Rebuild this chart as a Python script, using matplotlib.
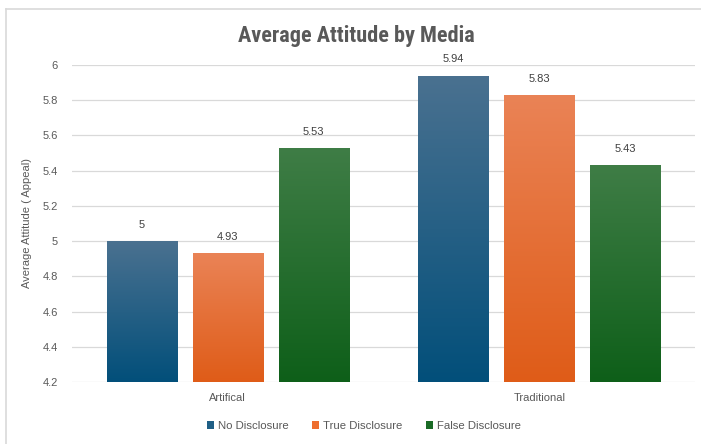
import numpy as np
import matplotlib
matplotlib.use("Agg")
import matplotlib.pyplot as plt
from matplotlib.colors import LinearSegmentedColormap
from matplotlib.lines import Line2D
from matplotlib.patches import Patch

categories = ["Artifical", "Traditional"]
series_names = ["No Disclosure", "True Disclosure", "False Disclosure"]
no_disclosure = [5.0, 5.94]
true_disclosure = [4.93, 5.83]
false_disclosure = [5.53, 5.43]
value_labels = [["5", "5.94"], ["4.93", "5.83"], ["5.53", "5.43"]]
yticks = [4.2, 4.4, 4.6, 4.8, 5.0, 5.2, 5.4, 5.6, 5.8, 6.0]
ytick_labels = ["4.2", "4.4", "4.6", "4.8", "5", "5.2", "5.4", "5.6", "5.8", "6"]

series = [no_disclosure, true_disclosure, false_disclosure]
top_colors = ["#4a7190", "#ea8356", "#3f7d46"]
bot_colors = ["#024f7a", "#df5c18", "#0e5f19"]
legend_colors = ["#1f5f86", "#ee6e2e", "#1a6b26"]

plt.rcParams["font.family"] = ["Liberation Sans", "DejaVu Sans"]
text_color = "#595959"

fig = plt.figure(figsize=(7.01, 4.44), dpi=100)
ax = fig.add_axes([72/701, 1-382/444, (695-72)/701, (382-65)/444])

x = np.arange(len(categories))
bw = 0.225
step = 0.276
ymin, ymax = 4.2, 6.0
for i, vals in enumerate(series):
    cmap = LinearSegmentedColormap.from_list("g%d" % i, [bot_colors[i], top_colors[i]])
    bars = ax.bar(x + (i-1)*step, np.array(vals) - ymin, bw, bottom=ymin,
                  color="none", edgecolor="none", zorder=3)
    for b, v, lab in zip(bars, vals, value_labels[i]):
        x0 = b.get_x()
        grad = np.linspace(0, 1, 256).reshape(-1, 1)
        im = ax.imshow(grad, cmap=cmap, origin="lower", aspect="auto",
                       extent=[x0, x0 + bw, ymin, v], zorder=3)
        im.set_clip_path(b)
        ax.annotate(lab, (x0 + bw/2, v), xytext=(0, 8), textcoords="offset points",
                    ha="center", va="bottom", fontsize=8, color="#404040")

ax.set_xlim(-0.5, 1.5)
ax.set_ylim(ymin, ymax)
ax.set_yticks(yticks)
ax.set_yticklabels(ytick_labels)
ax.set_xticks(x)
ax.set_xticklabels(categories)
ax.tick_params(axis="both", length=0, labelsize=8, labelcolor=text_color)
ax.tick_params(axis="y", pad=10)
ax.tick_params(axis="x", pad=8)
ax.grid(axis="y", color="#d9d9d9", lw=0.9, zorder=0)
ax.set_axisbelow(True)
for s in ax.spines.values():
    s.set_visible(False)
ax.set_ylabel("Average Attitude ( Appeal)", fontsize=8, color=text_color, labelpad=8)

fig.text(356.5/701, 1-42.3/444, "Average Attitude by Media", ha="center", va="baseline",
         fontsize=16, fontweight="bold", color=text_color,
         family=["Roboto Condensed", "Archivo Narrow", "DejaVu Sans"])

handles = [Patch(facecolor=c, edgecolor="none") for c in legend_colors]
fig.legend(handles, series_names, loc="center", bbox_to_anchor=(364/701, 1-426/444),
           ncol=3, frameon=False, fontsize=8.2, labelcolor=text_color,
           handlelength=0.65, handleheight=0.65, handletextpad=0.35, columnspacing=2.0)

fig.add_artist(Line2D([6/701, 6/701], [0, 1-9/444], transform=fig.transFigure, color="#d9d9d9", lw=1.2))
fig.add_artist(Line2D([6/701, 1], [1-9/444, 1-9/444], transform=fig.transFigure, color="#d9d9d9", lw=1.2))

fig.savefig("out.png", dpi=100)
